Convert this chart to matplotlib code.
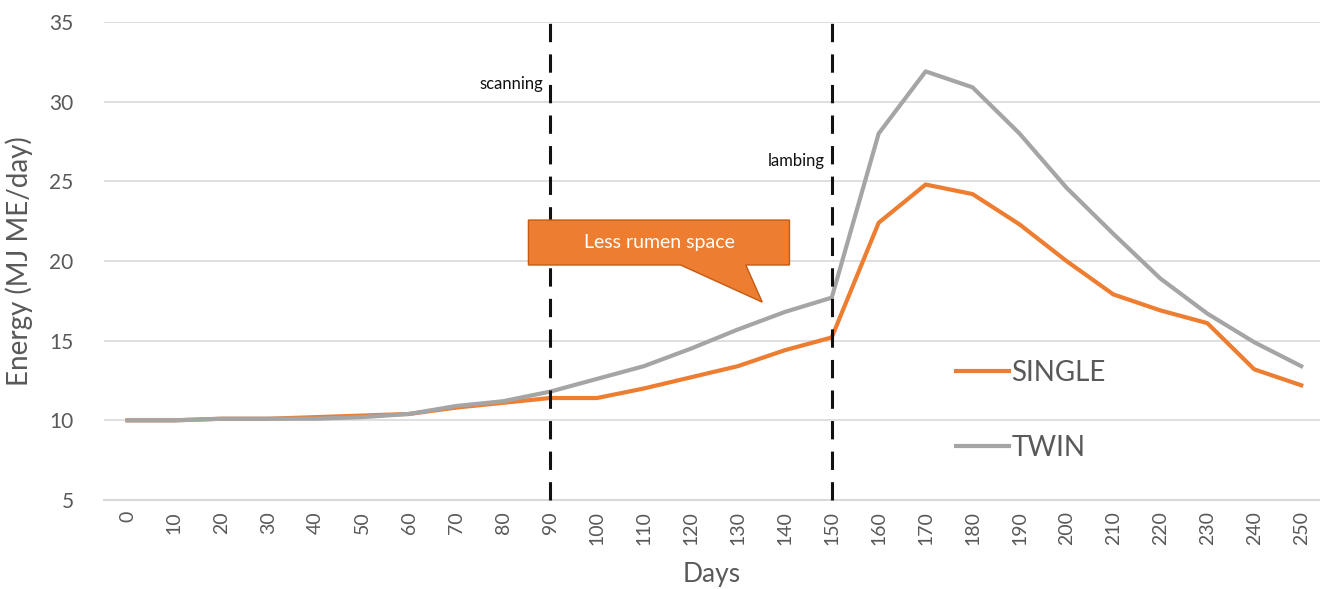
import numpy as np
import matplotlib.pyplot as plt
from matplotlib.patches import Polygon

plt.rcParams['font.family'] = ['Lato', 'DejaVu Sans']

days = [0, 10, 20, 30, 40, 50, 60, 70, 80, 90, 100, 110, 120, 130, 140, 150,
        160, 170, 180, 190, 200, 210, 220, 230, 240, 250]
single = [10.0, 10.0, 10.1, 10.1, 10.2, 10.3, 10.4, 10.8, 11.1, 11.4, 11.4, 12.0,
          12.7, 13.4, 14.4, 15.2, 22.4, 24.8, 24.2, 22.3, 20.0, 17.9, 16.9, 16.1,
          13.2, 12.2]
twin = [10.0, 10.0, 10.1, 10.1, 10.1, 10.2, 10.4, 10.9, 11.2, 11.8, 12.6, 13.4,
        14.5, 15.7, 16.8, 17.7, 28.0, 31.9, 30.9, 28.0, 24.6, 21.7, 18.9, 16.7,
        14.9, 13.4]
events = [(90, 'scanning', 30.6), (150, 'lambing', 25.8)]

ORANGE = '#ED7D31'
GREY = '#A5A5A5'
TXT = '#595959'

fig = plt.figure(figsize=(13.2, 5.89), dpi=100)
ax = fig.add_axes([104 / 1320, 1 - 500 / 589, 1 - 104 / 1320, (500 - 22) / 589])

x = np.arange(len(days))
ax.plot(x, single, color=ORANGE, lw=3, label='SINGLE', zorder=3)
ax.plot(x, twin, color=GREY, lw=3, label='TWIN', zorder=3)

ax.set_xlim(-0.5, 25.4)
ax.set_ylim(5, 35)
ax.set_yticks(range(5, 36, 5))
ax.set_xticks(x)
ax.set_xticklabels([str(d) for d in days], rotation=90, fontsize=14, color=TXT)
ax.tick_params(axis='y', labelsize=15, colors=TXT, length=0, pad=22)
ax.tick_params(axis='x', length=0, pad=8)
ax.grid(axis='y', color='#D9D9D9', lw=1.2)
ax.set_axisbelow(True)
for s in ['top', 'right', 'left']:
    ax.spines[s].set_visible(False)
ax.spines['bottom'].set_color('#D9D9D9')
ax.spines['bottom'].set_linewidth(1.5)

ax.set_ylabel('Energy (MJ ME/day)', fontsize=20, color=TXT, labelpad=12)
ax.set_xlabel('Days', fontsize=19, color=TXT, labelpad=12)

# scanning / lambing markers
for d, name, ty in events:
    i = days.index(d)
    ax.plot([i, i], [5, 35.6], color='#111111', lw=2.2, ls=(0, (6, 4)),
            clip_on=False, zorder=4)
    ax.text(i - 0.15, ty, name, ha='right', va='bottom', fontsize=12, color='#111111')

# callout box
box = [(8.54, 22.57), (14.1, 22.57), (14.1, 19.75), (13.17, 19.75), (13.52, 17.42),
       (11.78, 19.75), (8.54, 19.75)]
ax.add_patch(Polygon(box, closed=True, facecolor=ORANGE, edgecolor='#C55A11',
                     lw=1, zorder=5))
ax.text(11.32, 21.15, 'Less rumen space', ha='center', va='center',
        fontsize=14, color='white', zorder=6)

ax.legend(loc='upper left', bbox_to_anchor=(0.68, 0.345), frameon=False,
          fontsize=20, labelcolor=TXT, handlelength=1.9, handletextpad=0.1,
          labelspacing=1.75)

fig.savefig('out.png', dpi=100)
